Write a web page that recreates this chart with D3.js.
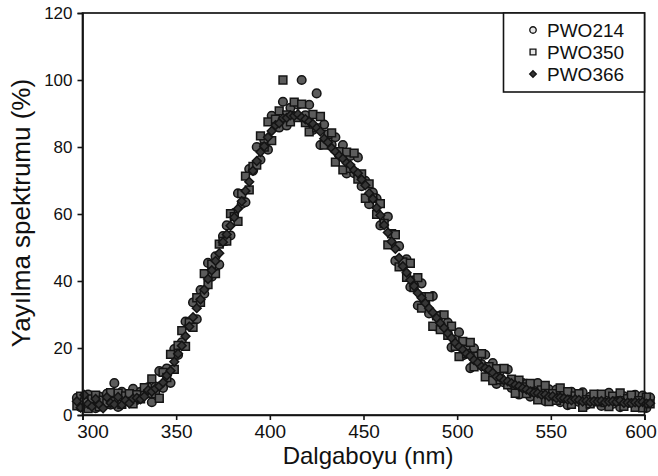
<!DOCTYPE html>
<html>
<head>
<meta charset="utf-8">
<script src="https://cdn.jsdelivr.net/npm/d3@7"></script>
<style>
  html, body { margin: 0; padding: 0; background: #fff; }
  svg { display: block; }
  text { font-family: "Liberation Sans", Arial, Helvetica, sans-serif; fill: #111; }
</style>
</head>
<body>
<svg id="chart" width="658" height="476"></svg>
<script>
// Emission spectra of three PWO crystals, sampled every 2 nm
const wavelengths = [
  297,299,301,303,305,307,309,311,313,315,
  317,319,321,323,325,327,329,331,333,335,
  337,339,341,343,345,347,349,351,353,355,
  357,359,361,363,365,367,369,371,373,375,
  377,379,381,383,385,387,389,391,393,395,
  397,399,401,403,405,407,409,411,413,415,
  417,419,421,423,425,427,429,431,433,435,
  437,439,441,443,445,447,449,451,453,455,
  457,459,461,463,465,467,469,471,473,475,
  477,479,481,483,485,487,489,491,493,495,
  497,499,501,503,505,507,509,511,513,515,
  517,519,521,523,525,527,529,531,533,535,
  537,539,541,543,545,547,549,551,553,555,
  557,559,561,563,565,567,569,571,573,575,
  577,579,581,583,585,587,589,591,593,595,
  597,599,601,603
];

const pwo214 = [
  5.1,2.3,4.4,6.1,3.3,2.0,5.5,3.7,6.3,3.1,
  9.5,2.4,6.9,5.2,3.9,7.8,4.5,6.9,6.1,8.3,
  3.8,8.5,13.1,8.1,13.9,9.6,19.7,17.9,21.7,27.9,
  26.6,33.6,28.6,37.3,36.2,45.4,41.3,47.4,44.9,53.4,
  56.6,53.6,60.3,66.2,63.0,63.5,73.4,72.9,80.0,76.2,
  82.2,79.2,89.3,87.3,85.8,93.5,86.4,91.7,89.1,92.6,
  100,89.5,92.6,85.1,96.0,80.6,86.7,80.9,80.7,82.9,
  77.6,80.6,72.1,77.3,72.2,76.9,68.3,69.9,62.9,66.4,
  64.6,56.6,58.3,59.2,51.0,46.0,50.4,44.4,46.5,38.2,
  40.2,32.7,39.3,34.3,30.3,35.5,26.4,29.7,25.6,27.6,
  20.2,22.5,24.7,17.8,20.7,14.0,19.9,15.0,15.2,18.0,
  13.7,15.5,9.3,13.1,9.7,13.6,8.1,10.1,6.1,9.5,
  9.3,5.5,7.5,9.5,5.6,4.1,7.7,5.6,7.6,3.8,
  6.1,2.9,6.9,5.2,3.9,6.8,3.0,5.4,4.1,5.8,
  2.7,4.8,6.6,3.3,5.5,2.3,5.6,3.5,4.1,6.0,
  3.8,5.8,2.1,5.2
];

const pwo350 = [
  2.7,5.6,3.9,1.9,4.8,5.9,2.4,4.4,3.6,6.7,
  4.0,6.5,3.2,5.7,6.4,3.3,6.1,4.8,8.2,6.4,
  10.8,6.3,5.0,12.7,11.2,18.1,13.6,20.8,25.2,20.5,
  27.6,26.2,35.0,33.6,42.2,38.9,45.0,42.2,51.0,51.8,
  51.9,60.1,59.2,57.8,66.1,71.3,67.2,74.2,74.6,83.3,
  80.0,87.5,81.9,88.3,90.8,100,89.6,87.5,93.4,88.8,
  92.8,87.3,84.5,89.7,85.7,89.1,80.6,83.8,84.2,75.5,
  78.6,73.2,78.5,73.6,78.2,70.4,72.0,64.7,69.0,64.8,
  59.9,63.1,57.2,50.8,54.1,53.8,44.2,45.7,41.1,45.3,
  38.0,41.0,31.9,35.3,35.3,26.5,29.6,25.5,29.9,23.8,
  26.5,20.5,17.4,22.0,18.3,21.7,14.4,17.6,18.3,11.4,
  14.4,10.3,13.8,10.5,13.9,9.0,10.7,6.5,10.4,8.4,
  6.4,9.4,6.8,4.5,7.5,8.8,4.0,6.4,4.4,8.1,
  5.0,7.0,3.2,5.7,6.4,2.3,4.6,3.3,6.2,3.9,
  6.2,3.7,2.5,5.6,4.1,6.6,2.6,4.9,5.9,2.3,
  4.3,2.1,5.3,3.3
];

const pwo366 = [
  4.1,2.2,6.0,3.3,2.5,4.8,3.1,2.0,5.3,3.6,
  3.2,5.4,3.0,4.4,3.5,4.9,5.1,4.7,5.5,7.4,
  7.0,7.9,8.6,9.7,11.8,13.2,15.9,18.3,20.7,23.5,
  26.4,29.2,31.9,34.5,37.4,40.6,43.2,46.0,48.3,51.6,
  53.9,56.5,59.0,61.6,63.8,66.9,69.6,72.9,75.8,78.5,
  80.2,82.9,84.8,86.5,87.1,88.6,88.7,89.5,89.3,89.8,
  88.8,88.3,87.6,86.9,85.7,84.6,82.5,81.4,79.7,78.6,
  77.4,76.5,75.2,74.6,73.1,72.2,70.3,68.6,66.2,64.5,
  61.8,59.6,56.7,54.5,51.8,49.6,46.9,44.4,42.5,40.3,
  38.5,36.4,35.0,33.4,31.9,30.6,29.0,27.4,26.0,24.4,
  23.0,21.5,20.4,19.5,18.3,17.6,16.4,15.6,14.4,14.0,
  13.5,12.6,11.4,11.1,10.4,10.1,9.5,9.0,8.6,8.0,
  7.6,7.0,6.6,6.5,6.0,6.1,5.5,5.6,5.0,5.2,
  5.0,4.6,4.4,4.7,4.5,4.0,4.2,3.9,4.1,4.0,
  4.2,3.8,4.0,4.1,3.9,4.3,3.6,3.7,3.5,3.8,
  3.6,3.9,3.4,3.5
];

const seriesNames = ["PWO214", "PWO350", "PWO366"];
const xTicks = [300, 350, 400, 450, 500, 550, 600];
const yTicks = [0, 20, 40, 60, 80, 100, 120];
const xTitle = "Dalgaboyu (nm)";
const yTitle = "Yayılma spektrumu (%)";

const svg = d3.select("#chart");
const x = d3.scaleLinear().domain([300, 600]).range([82.5, 644.5]);
const y = d3.scaleLinear().domain([0, 120]).range([415, 13]);

const ink = "#141414";

// marker shapes
const diamondType = {
  draw: (ctx, s) => {
    const r = Math.sqrt(s / 2);
    ctx.moveTo(0, -r); ctx.lineTo(r, 0); ctx.lineTo(0, r); ctx.lineTo(-r, 0); ctx.closePath();
  }
};
const circlePath = d3.symbol().type(d3.symbolCircle).size(Math.PI * 4.3 * 4.3)();
const squarePath = d3.symbol().type(d3.symbolSquare).size(7.8 * 7.8)();
const diamondPath = d3.symbol().type(diamondType).size(2 * 4.4 * 4.4)();

const series = [
  { name: seriesNames[0], values: pwo214, path: circlePath, fill: "#5c5c5c" },
  { name: seriesNames[1], values: pwo350, path: squarePath, fill: "#5c5c5c" },
  { name: seriesNames[2], values: pwo366, path: diamondPath, fill: "#363636" }
];

// data markers
const plot = svg.append("g");
series.forEach(s => {
  plot.append("g").selectAll("path")
    .data(wavelengths.map((w, i) => [w, s.values[i]]))
    .join("path")
    .attr("d", s.path)
    .attr("transform", d => `translate(${x(d[0])},${y(d[1])})`)
    .attr("fill", s.fill)
    .attr("stroke", ink)
    .attr("stroke-width", 1.5);
});

// frame
svg.append("rect")
  .attr("x", x(300)).attr("y", y(120))
  .attr("width", x(600) - x(300)).attr("height", y(0) - y(120))
  .attr("fill", "none").attr("stroke", ink).attr("stroke-width", 1.7);

// axes
const xAxis = svg.append("g")
  .attr("transform", `translate(0,${y(0)})`)
  .call(d3.axisBottom(x).tickValues(xTicks).tickSize(5).tickPadding(5));
const yAxis = svg.append("g")
  .attr("transform", `translate(${x(300)},0)`)
  .call(d3.axisLeft(y).tickValues(yTicks).tickSize(5).tickPadding(5));

[xAxis, yAxis].forEach(a => {
  a.select(".domain").attr("stroke", ink).attr("stroke-width", 1.7);
  a.selectAll(".tick line").attr("stroke", ink).attr("stroke-width", 1.6);
  a.selectAll(".tick text").attr("fill", ink)
    .style("font-family", "'Liberation Sans', Arial, sans-serif");
});
xAxis.selectAll(".tick text").style("font-size", "19px");
yAxis.selectAll(".tick text").style("font-size", "17px");
// end labels nudged inward so they stay clear of the corner and the page edge
xAxis.selectAll(".tick text").filter(d => d === 300).attr("dx", 10);
xAxis.selectAll(".tick text").filter(d => d === 600).attr("dx", -4);

// axis titles
svg.append("text")
  .attr("x", 368).attr("y", 464)
  .attr("text-anchor", "middle")
  .style("font-size", "24px")
  .text(xTitle);

svg.append("text")
  .attr("transform", `translate(30,213) rotate(-90)`)
  .attr("text-anchor", "middle")
  .style("font-size", "26px")
  .text(yTitle);

// legend
const legend = svg.append("g");
legend.append("rect")
  .attr("x", 503.5).attr("y", y(120))
  .attr("width", x(600) - 503.5).attr("height", 79)
  .attr("fill", "#fff").attr("stroke", ink).attr("stroke-width", 1.6);
const legendRows = [30, 52, 74];
series.forEach((s, i) => {
  legend.append("path")
    .attr("d", s.path)
    .attr("transform", `translate(533,${legendRows[i]}) scale(0.75)`)
    .attr("fill", i < 2 ? "#e6e6e6" : s.fill)
    .attr("stroke", ink)
    .attr("stroke-width", 1.8);
  legend.append("text")
    .attr("x", 547).attr("y", legendRows[i] + 7)
    .style("font-size", "19px")
    .text(s.name);
});
</script>
</body>
</html>
